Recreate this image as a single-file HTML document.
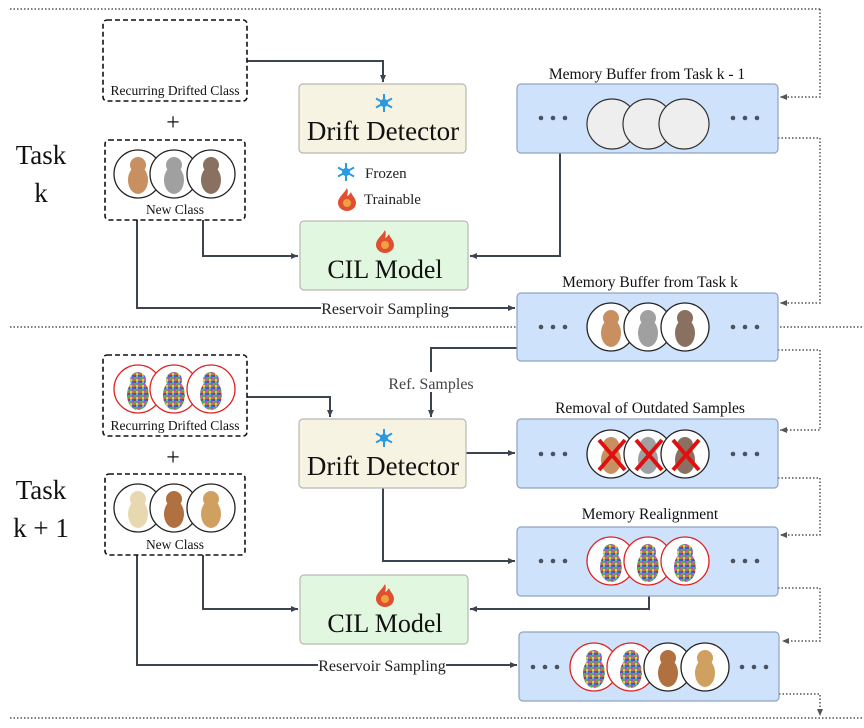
<!DOCTYPE html>
<html><head><meta charset="utf-8"><style>
html,body{margin:0;padding:0;background:#fff}
svg{display:block;font-family:"Liberation Serif",serif}
</style></head><body>
<svg width="864" height="728" viewBox="0 0 864 728" xmlns="http://www.w3.org/2000/svg">
<defs>
<marker id="ar" markerWidth="8" markerHeight="8" refX="7" refY="4" orient="auto" markerUnits="userSpaceOnUse"><path d="M0,1 L7,4 L0,7 z" fill="#3d4450"/></marker>
<marker id="ad" markerWidth="8" markerHeight="8" refX="7" refY="4" orient="auto" markerUnits="userSpaceOnUse"><path d="M0,1 L7,4 L0,7 z" fill="#555"/></marker>
<pattern id="nz" width="6" height="6" patternUnits="userSpaceOnUse">
<rect width="6" height="6" fill="#8a8a7a"/><rect x="0" y="0" width="2" height="2" fill="#d040c0"/><rect x="2" y="0" width="2" height="2" fill="#40c040"/><rect x="4" y="2" width="2" height="2" fill="#e0d040"/><rect x="0" y="4" width="2" height="2" fill="#4060e0"/><rect x="2" y="2" width="2" height="2" fill="#e06040"/><rect x="4" y="4" width="2" height="2" fill="#60c0d0"/><rect x="2" y="4" width="2" height="2" fill="#6a4a80"/>
</pattern>
<g id="snow" stroke="#2a9be0" stroke-width="2" fill="none"><line x1="0" y1="-9" x2="0" y2="9"/><line x1="-8" y1="-4.5" x2="8" y2="4.5"/><line x1="-8" y1="4.5" x2="8" y2="-4.5"/><circle r="3" fill="#2a9be0"/></g>
<g id="flame"><path d="M0,-11 C-3,-5 -9,-2 -9,4 A9,8 0 0 0 9,4 C9,-1 5,-3 4,-7 C2,-4 1,-3 0,-3 C1,-6 1,-9 0,-11z" fill="#e05030"/><circle cx="0" cy="4" r="4" fill="#f0a040"/></g>
<g id="cat"><circle r="24" fill="#fff" stroke="#222" stroke-width="1.3"/><ellipse cx="0" cy="6" rx="10" ry="14"/><circle cx="0" cy="-9" r="8"/></g>
<g id="ncat"><circle r="24" fill="#fff" stroke="#e02020" stroke-width="1.3"/><ellipse cx="0" cy="6" rx="11" ry="15" fill="url(#nz)"/><circle cx="0" cy="-9" r="8" fill="url(#nz)"/></g>
</defs>

<g stroke="#555" stroke-width="1.5" stroke-dasharray="1.5,2" fill="none">
<line x1="10" y1="9" x2="820" y2="9"/><line x1="10" y1="327" x2="864" y2="327"/><line x1="10" y1="718" x2="864" y2="718"/>
<polyline points="820,9 820,97 780,97" marker-end="url(#ad)"/>
<polyline points="778,138 820,138 820,303 780,303" marker-end="url(#ad)"/>
<polyline points="778,350 820,350 820,430 780,430" marker-end="url(#ad)"/>
<polyline points="778,478 820,478 820,535 780,535" marker-end="url(#ad)"/>
<polyline points="778,588 820,588 820,641 782,641" marker-end="url(#ad)"/>
<polyline points="779,694 820,694 820,716" marker-end="url(#ad)"/>
</g>

<g font-size="27" fill="#111" text-anchor="middle"><text x="41" y="164">Task</text><text x="41" y="202">k</text><text x="41" y="499">Task</text><text x="41" y="537">k + 1</text></g>

<g stroke="#3d4450" stroke-width="2" fill="none">
<polyline points="247,61 383,61 383,82" marker-end="url(#ar)"/>
<polyline points="560,153 560,256 470,256" marker-end="url(#ar)"/>
<polyline points="203,220 203,256 298,256" marker-end="url(#ar)"/>
<polyline points="137,220 137,308 515,308" marker-end="url(#ar)"/>
<polyline points="247,397 330,397 330,417" marker-end="url(#ar)"/>
<polyline points="517,348 431,348 431,417" marker-end="url(#ar)"/>
<polyline points="466,453 515,453" marker-end="url(#ar)"/>
<polyline points="383,488 383,561 515,561" marker-end="url(#ar)"/>
<polyline points="649,596 649,609 470,609" marker-end="url(#ar)"/>
<polyline points="203,555 203,609 298,609" marker-end="url(#ar)"/>
<polyline points="137,555 137,665 517,665" marker-end="url(#ar)"/>
</g>
<g font-size="16" fill="#222" text-anchor="middle">
<rect x="321" y="298" width="128" height="20" fill="#fff"/><text x="385" y="314">Reservoir Sampling</text>
<rect x="318" y="655" width="128" height="20" fill="#fff"/><text x="382" y="671">Reservoir Sampling</text>
<rect x="387" y="372" width="88" height="20" fill="#fff"/><text x="431" y="389" fill="#444">Ref. Samples</text>
</g>

<g fill="none" stroke="#111" stroke-width="1.6" stroke-dasharray="5,3">
<rect x="103" y="20" width="144" height="81" rx="4"/><rect x="105" y="140" width="140" height="80" rx="4"/>
<rect x="103" y="355" width="144" height="81" rx="4"/><rect x="105" y="474" width="140" height="81" rx="4"/>
</g>
<g font-size="13.5" fill="#111" text-anchor="middle">
<text x="175" y="95">Recurring Drifted Class</text><text x="175" y="214">New Class</text>
<text x="175" y="430">Recurring Drifted Class</text><text x="175" y="549">New Class</text>
</g>
<g font-size="24" text-anchor="middle" fill="#111"><text x="173" y="130">+</text><text x="173" y="465">+</text></g>
<g fill="#c89060"><use href="#cat" x="138" y="174"/></g>
<g fill="#a0a0a0"><use href="#cat" x="174" y="174"/></g>
<g fill="#8a7060"><use href="#cat" x="211" y="174"/></g>
<use href="#ncat" x="138" y="389"/><use href="#ncat" x="174" y="389"/><use href="#ncat" x="211" y="389"/>
<g fill="#e8d8b0"><use href="#cat" x="138" y="508"/></g>
<g fill="#b07040"><use href="#cat" x="174" y="508"/></g>
<g fill="#d0a060"><use href="#cat" x="211" y="508"/></g>

<g stroke="#b8b8b0" stroke-width="1.2">
<rect x="299" y="84" width="167" height="69" rx="4" fill="#f6f3e3"/>
<rect x="300" y="221" width="168" height="69" rx="4" fill="#e2f7df"/>
<rect x="299" y="419" width="167" height="69" rx="4" fill="#f6f3e3"/>
<rect x="300" y="575" width="168" height="69" rx="4" fill="#e2f7df"/>
</g>
<use href="#snow" x="384" y="103"/><use href="#snow" x="384" y="438"/>
<use href="#flame" x="385" y="241"/><use href="#flame" x="385" y="595"/>
<use href="#snow" x="346" y="172"/><use href="#flame" x="347" y="199"/>
<g font-size="15" fill="#222"><text x="365" y="178">Frozen</text><text x="364" y="204">Trainable</text></g>
<g font-size="27" fill="#111" text-anchor="middle">
<text x="383" y="140">Drift Detector</text>
<text x="383" y="475">Drift Detector</text>
</g>
<g font-size="26" fill="#111" text-anchor="middle">
<text x="385" y="278">CIL Model</text><text x="385" y="632">CIL Model</text>
</g>

<g fill="#cfe2fb" stroke="#8fa4c0" stroke-width="1.2">
<rect x="517" y="84" width="261" height="69" rx="4"/>
<rect x="517" y="293" width="261" height="68" rx="4"/>
<rect x="517" y="419" width="261" height="69" rx="4"/>
<rect x="517" y="527" width="261" height="69" rx="4"/>
<rect x="519" y="632" width="260" height="69" rx="4"/>
</g>
<g font-size="15.5" fill="#111" text-anchor="middle">
<text x="647" y="79">Memory Buffer from Task k - 1</text>
<text x="650" y="287">Memory Buffer from Task k</text>
<text x="650" y="413">Removal of Outdated Samples</text>
<text x="650" y="519">Memory Realignment</text>
</g>
<g fill="#4a5260">
<circle cx="541" cy="118" r="2.3"/><circle cx="553" cy="118" r="2.3"/><circle cx="565" cy="118" r="2.3"/><circle cx="733" cy="118" r="2.3"/><circle cx="745" cy="118" r="2.3"/><circle cx="757" cy="118" r="2.3"/>
<circle cx="541" cy="327" r="2.3"/><circle cx="553" cy="327" r="2.3"/><circle cx="565" cy="327" r="2.3"/><circle cx="733" cy="327" r="2.3"/><circle cx="745" cy="327" r="2.3"/><circle cx="757" cy="327" r="2.3"/>
<circle cx="541" cy="454" r="2.3"/><circle cx="553" cy="454" r="2.3"/><circle cx="565" cy="454" r="2.3"/><circle cx="733" cy="454" r="2.3"/><circle cx="745" cy="454" r="2.3"/><circle cx="757" cy="454" r="2.3"/>
<circle cx="541" cy="561" r="2.3"/><circle cx="553" cy="561" r="2.3"/><circle cx="565" cy="561" r="2.3"/><circle cx="733" cy="561" r="2.3"/><circle cx="745" cy="561" r="2.3"/><circle cx="757" cy="561" r="2.3"/>
<circle cx="533" cy="667" r="2.3"/><circle cx="545" cy="667" r="2.3"/><circle cx="557" cy="667" r="2.3"/><circle cx="742" cy="667" r="2.3"/><circle cx="754" cy="667" r="2.3"/><circle cx="766" cy="667" r="2.3"/>
</g>
<g fill="#eeeeee" stroke="#333" stroke-width="1.2"><circle cx="612" cy="124" r="25"/><circle cx="648" cy="124" r="25"/><circle cx="684" cy="124" r="25"/></g>
<g fill="#c89060"><use href="#cat" x="611" y="327"/></g><g fill="#a0a0a0"><use href="#cat" x="648" y="327"/></g><g fill="#8a7060"><use href="#cat" x="685" y="327"/></g>
<g fill="#c89060"><use href="#cat" x="611" y="454"/></g><g fill="#a0a0a0"><use href="#cat" x="648" y="454"/></g><g fill="#8a7060"><use href="#cat" x="685" y="454"/></g>
<g stroke="#e01010" stroke-width="4"><path d="M599,440 L625,470 M625,440 L599,470"/><path d="M636,440 L662,470 M662,440 L636,470"/><path d="M673,440 L699,470 M699,440 L673,470"/></g>
<use href="#ncat" x="611" y="561"/><use href="#ncat" x="648" y="561"/><use href="#ncat" x="685" y="561"/>
<use href="#ncat" x="594" y="667"/><use href="#ncat" x="631" y="667"/>
<g fill="#b07040"><use href="#cat" x="668" y="667"/></g><g fill="#d0a060"><use href="#cat" x="705" y="667"/></g>
</svg>
</body></html>
